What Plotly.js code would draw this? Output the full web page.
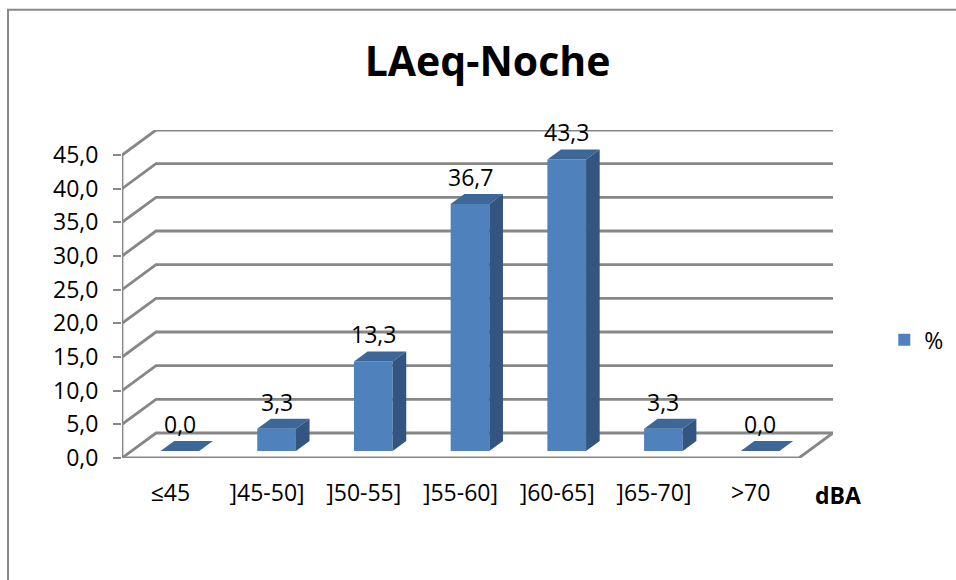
<!DOCTYPE html>
<html>
<head>
<meta charset="utf-8">
<script src="https://cdn.plot.ly/plotly-3.0.1.min.js"></script>
<style>html,body{margin:0;padding:0;background:#fff}</style>
</head>
<body>
<div id="chart" style="width:956px;height:580px"></div>
<script>
// ---- data ----
const chartTitle = "LAeq-Noche";
const categories = ["≤45", "]45-50]", "]50-55]", "]55-60]", "]60-65]", "]65-70]", ">70"];
const values = [0.0, 3.3, 13.3, 36.7, 43.3, 3.3, 0.0];
const yTicks = [0, 5, 10, 15, 20, 25, 30, 35, 40, 45];
const seriesName = "%";
const xUnit = "dBA";

// ---- 3D look (style geometry, in axis units) ----
const DX = 0.352, DY = 3.713;     // depth offset of the back wall
const FRONT = 0.28, DEPTH = 0.40; // bar position / thickness in depth
const BARW = 0.40;
const cFront = "#4F81BD", cTop = "#3C6798", cSide = "#33557F";
const gridColor = "#878787";
const FONT = "Open Sans, Liberation Sans, sans-serif";
const FS = 23;

const idx = categories.map((_, i) => i);
const xmin = -0.5, xmax = categories.length - 0.5;
const yMaxTick = yTicks[yTicks.length - 1];
const base = FRONT * DY;
const shiftX = FRONT * DX;
const fmt = v => v.toFixed(1).replace(".", ",");

const traces = [{
  type: "bar", x: idx, y: values, base: values.map(() => base),
  width: BARW, offset: -BARW / 2 + shiftX,
  marker: {color: cFront, line: {width: 0}},
  name: seriesName, showlegend: true, hoverinfo: "skip"
}];

idx.forEach(i => {
  const v = values[i];
  const xl = i - BARW / 2 + shiftX, xr = xl + BARW;
  const yt = base + v;
  const ddx = DEPTH * DX, ddy = DEPTH * DY;
  traces.push({
    type: "scatter", mode: "lines", fill: "toself", fillcolor: cTop,
    line: {width: 0, color: cTop}, showlegend: false, hoverinfo: "skip",
    x: [xl, xr, xr + ddx, xl + ddx, xl], y: [yt, yt, yt + ddy, yt + ddy, yt]
  });
  traces.push({
    type: "scatter", mode: "lines", fill: "toself", fillcolor: cSide,
    line: {width: 0, color: cSide}, showlegend: false, hoverinfo: "skip",
    x: [xr, xr, xr + ddx, xr + ddx, xr], y: [base, yt, yt + ddy, base + ddy, base]
  });
});

const shapes = [];
yTicks.forEach(v => {
  shapes.push({
    type: "path", xref: "x", yref: "y", layer: "below",
    path: `M${xmin},${v} L${xmin + DX},${v + DY} L${xmax + DX},${v + DY}`,
    line: {color: gridColor, width: 2.8}
  });
});
// floor front edge and right edge
shapes.push({
  type: "path", xref: "x", yref: "y", layer: "below",
  path: `M${xmin},0 L${xmax},0 L${xmax + DX},${DY}`,
  line: {color: gridColor, width: 2.8}
});
// vertical axis line
shapes.push({
  type: "line", xref: "x", yref: "y", layer: "below",
  x0: xmin, x1: xmin, y0: 0, y1: yMaxTick,
  line: {color: gridColor, width: 2.8}
});
// outer chart frame
shapes.push({
  type: "rect", xref: "paper", yref: "paper",
  x0: 0.0084, x1: 1.05, y0: -0.05, y1: 0.983,
  line: {color: "#888888", width: 2}, fillcolor: "rgba(0,0,0,0)"
});

const annotations = idx.map(i => ({
  xref: "x", yref: "y", x: i + shiftX, y: base + values[i] + DEPTH * DY,
  text: fmt(values[i]), showarrow: false, yanchor: "middle", yshift: 17,
  font: {family: FONT, size: FS, color: "#000"}
}));
annotations.push({
  xref: "paper", yref: "paper", x: 0.8766, y: 0.1466,
  text: "<b>" + xUnit + "</b>", showarrow: false,
  xanchor: "center", yanchor: "middle",
  font: {family: FONT, size: FS, color: "#000"}
});

const layout = {
  width: 956, height: 580,
  margin: {l: 0, r: 0, t: 0, b: 0},
  paper_bgcolor: "#fff", plot_bgcolor: "rgba(0,0,0,0)",
  separators: ",.",
  title: {
    text: "<b>" + chartTitle + "</b>", x: 0.51, xanchor: "center",
    y: 0.893, yanchor: "middle", xref: "paper", yref: "paper",
    font: {family: FONT, size: 41, color: "#000"}
  },
  xaxis: {
    domain: [122 / 956, 833 / 956],
    range: [xmin, xmax + DX],
    tickvals: idx, ticktext: categories,
    ticks: "", showgrid: false, zeroline: false, showline: false,
    ticklabelstandoff: 19,
    tickfont: {family: FONT, size: FS, color: "#000"},
    fixedrange: true
  },
  yaxis: {
    domain: [(580 - 458) / 580, (580 - 130) / 580],
    range: [0, yMaxTick + DY],
    tickvals: yTicks, tickformat: ".1f",
    ticks: "outside", ticklen: 8, tickwidth: 2, tickcolor: gridColor,
    showgrid: false, zeroline: false, showline: false,
    ticklabelstandoff: 10,
    tickfont: {family: FONT, size: FS, color: "#000"},
    fixedrange: true
  },
  legend: {
    x: 0.925, y: 0.414, xanchor: "left", yanchor: "middle",
    bgcolor: "rgba(0,0,0,0)", itemwidth: 30,
    font: {family: FONT, size: FS, color: "#000"}
  },
  shapes: shapes,
  annotations: annotations,
  showlegend: true
};

Plotly.newPlot("chart", traces, layout, {displayModeBar: false, staticPlot: true});
</script>
</body>
</html>
